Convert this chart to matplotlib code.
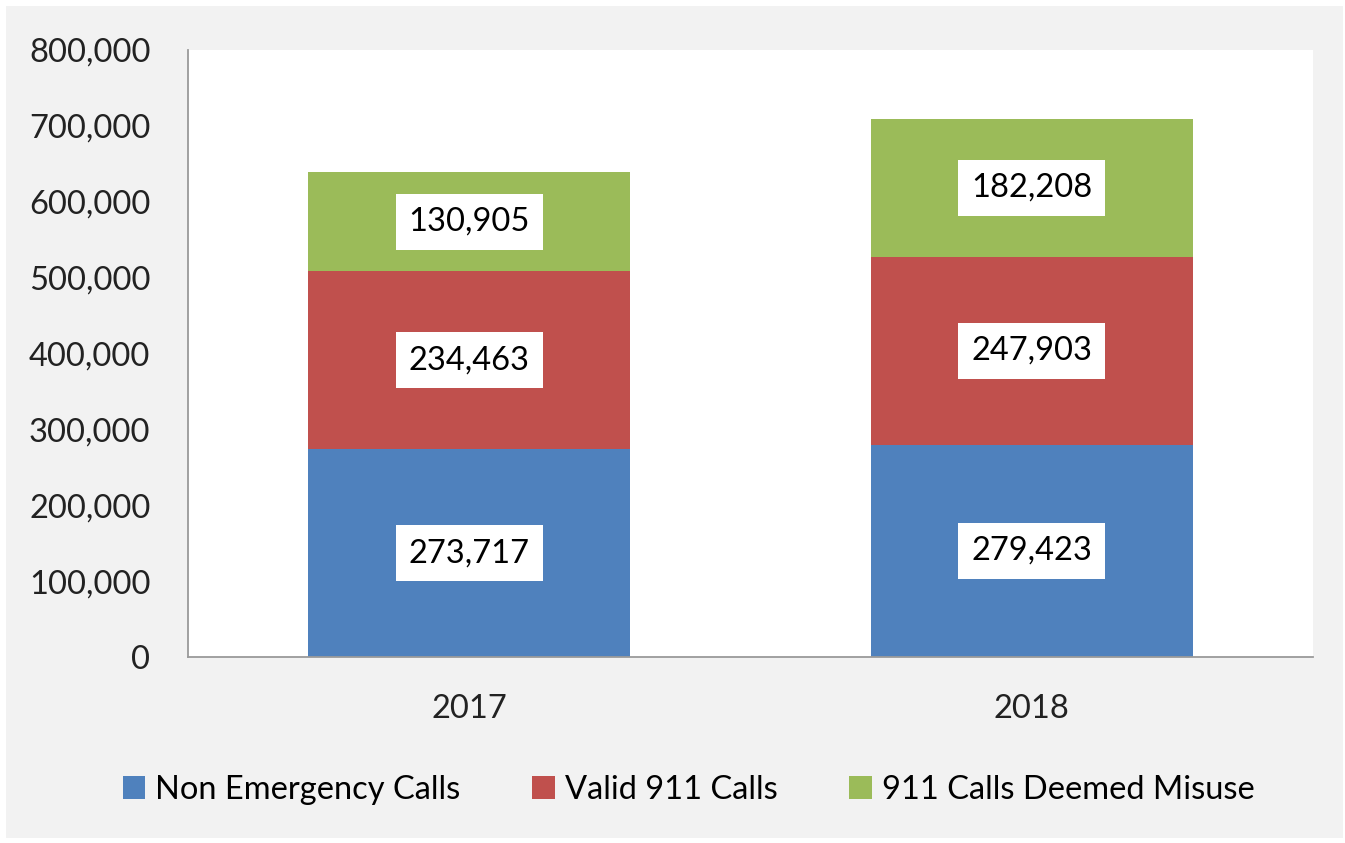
import matplotlib
matplotlib.use('Agg')
import matplotlib.pyplot as plt
from matplotlib.patches import Rectangle
from matplotlib.ticker import FuncFormatter
import numpy as np

# ── Data ─────────────────────────────────────────────────────────────────────
years = ['2017', '2018']
series_names = ['Non Emergency Calls', 'Valid 911 Calls', '911 Calls Deemed Misuse']
non_emergency = [273717, 279423]
valid_911 = [234463, 247903]
misuse_911 = [130905, 182208]

colors = ['#4f81bd', '#c0504d', '#9bbb59']
FONT = 'Lato'

W, H = 1345, 843
fig = plt.figure(figsize=(W / 100, H / 100), dpi=100, facecolor='white')
fig.patches.append(Rectangle((6 / W, 5 / H), 1 - 8 / W, 1 - 11 / H,
                             transform=fig.transFigure, facecolor='#f2f2f2',
                             edgecolor='none', zorder=-1))

ax = fig.add_axes([188 / W, 1 - 657 / H, (1313 - 188) / W, (657 - 50) / H])
ax.set_facecolor('white')

x = np.arange(len(years))
bottom = np.zeros(len(years))
for vals, name, col in zip([non_emergency, valid_911, misuse_911], series_names, colors):
    ax.bar(x, vals, width=0.573, bottom=bottom, color=col, label=name, zorder=2)
    for xi, b, v in zip(x, bottom, vals):
        ax.text(xi, b + v / 2, f'{v:,}', ha='center', va='center', fontsize=23.5,
                family=FONT, color='black', zorder=3,
                bbox=dict(boxstyle='square,pad=0.4', facecolor='white', edgecolor='none'))
    bottom += np.array(vals)

ax.set_xlim(-0.5, 1.5)
ax.set_ylim(0, 800000)
ax.set_yticks(np.arange(0, 800001, 100000))
ax.yaxis.set_major_formatter(FuncFormatter(lambda v, p: f'{int(v):,}'))
ax.set_xticks(x)
ax.set_xticklabels(years)
ax.tick_params(axis='both', length=0, labelsize=23.5, colors='#222222')
ax.tick_params(axis='y', pad=27)
ax.tick_params(axis='x', pad=27)
for lab in ax.get_xticklabels() + ax.get_yticklabels():
    lab.set_family(FONT)

for side in ['top', 'right']:
    ax.spines[side].set_visible(False)
for side in ['left', 'bottom']:
    ax.spines[side].set_color('#9a9a9a')
    ax.spines[side].set_linewidth(1.3)

fig.legend(loc='center', bbox_to_anchor=(0.512, 1 - 790 / H), ncol=3, frameon=False,
           prop={'family': FONT, 'size': 23.5}, handlelength=0.7, handleheight=0.7,
           handletextpad=0.3, columnspacing=2.2)

fig.savefig('out.png', dpi=100, facecolor=fig.get_facecolor())
